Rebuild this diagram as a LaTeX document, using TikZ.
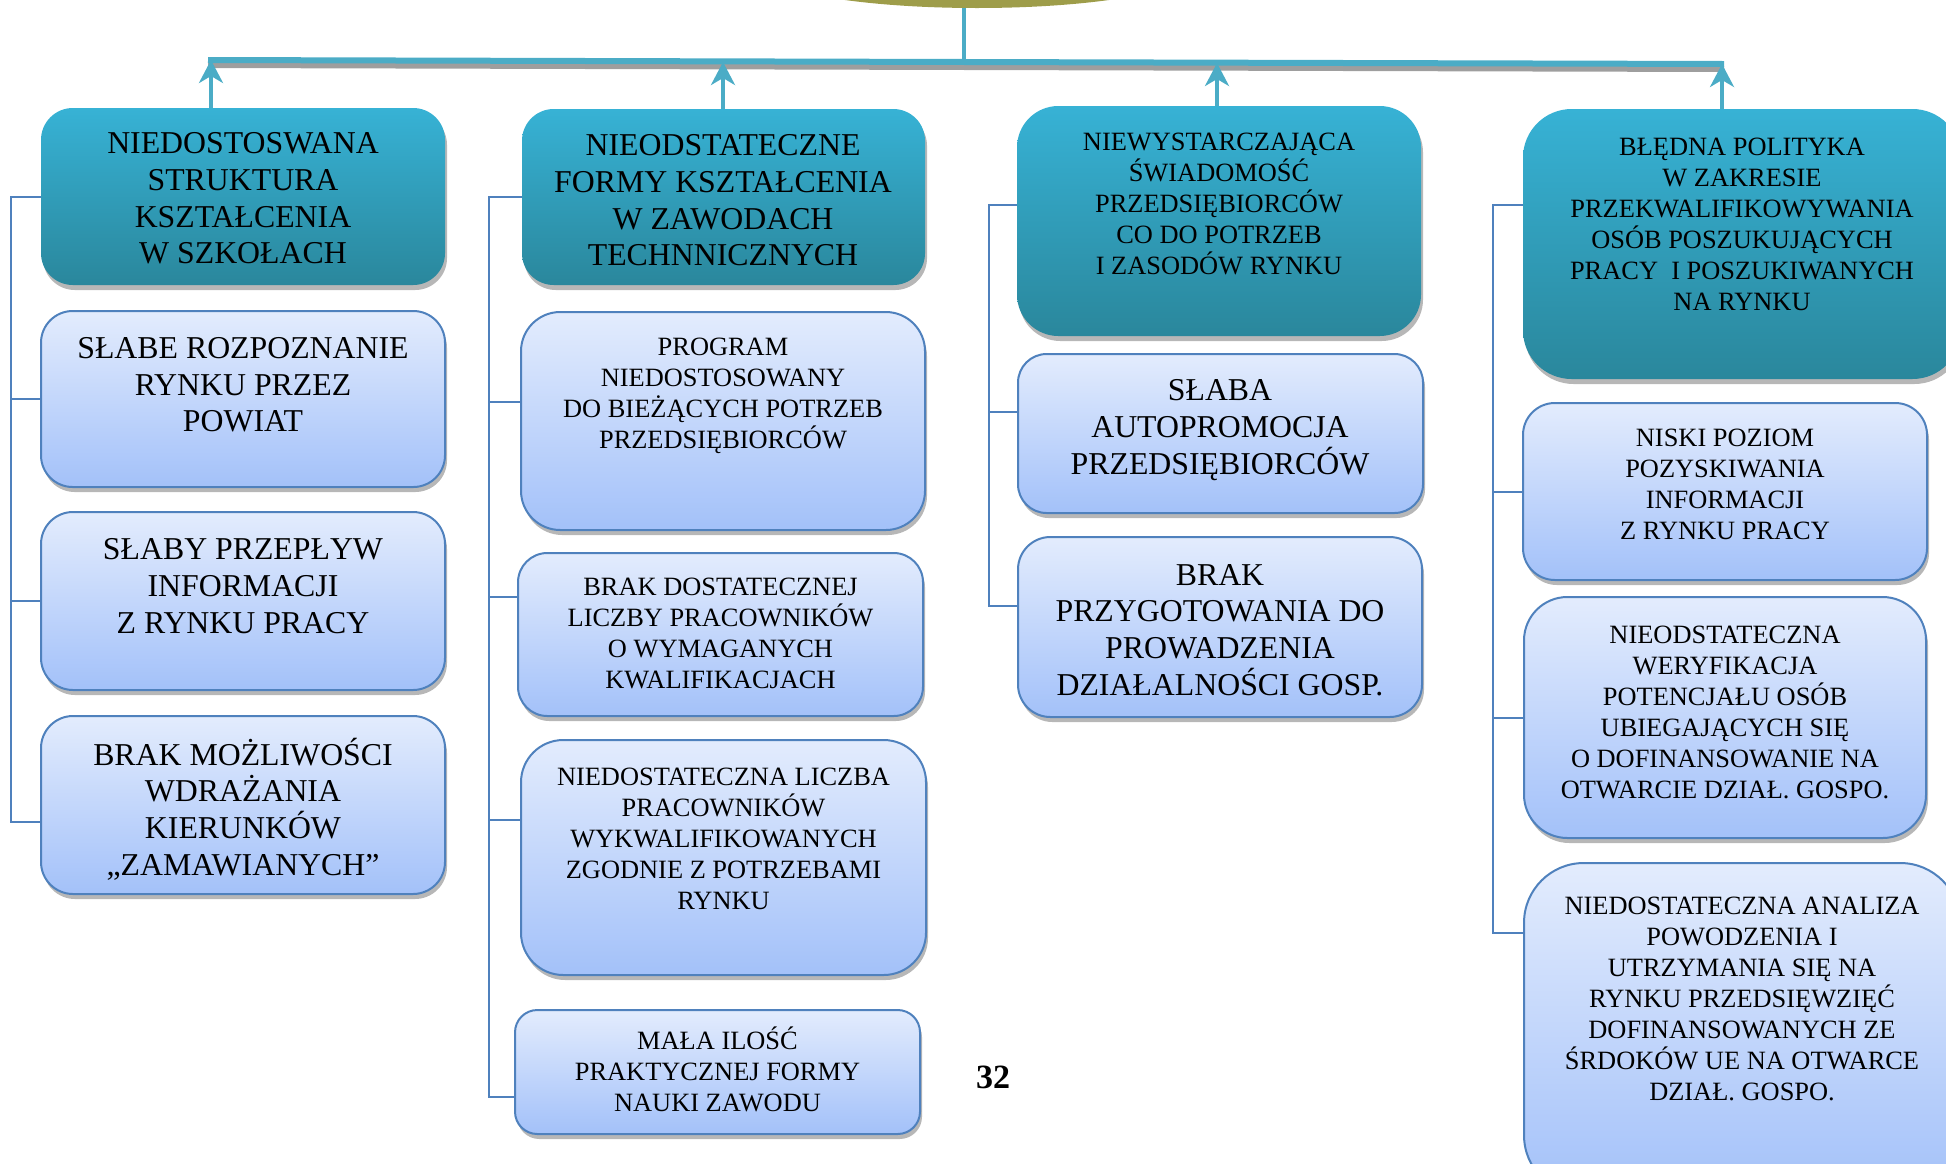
\documentclass[tikz,border=0pt]{standalone}
\usepackage{fontspec}
\setmainfont{Liberation Serif}
\usetikzlibrary{arrows.meta,shapes.geometric}
\definecolor{hdtop}{HTML}{37B2D5}
\definecolor{hdbot}{HTML}{2A879C}
\definecolor{lbtop}{HTML}{E3ECFD}
\definecolor{lbbot}{HTML}{A3C1F9}
\definecolor{lbline}{HTML}{4F81BD}
\definecolor{barc}{HTML}{4BACC6}
\definecolor{rootc}{HTML}{9E9D4A}
% #1 name, #2 style, #3 x1, #4 y1, #5 x2, #6 y2 (pixel units)
\newcommand\mkbox[6]{%
  \pgfmathsetmacro\bw{(#5-#3)*0.5}%
  \pgfmathsetmacro\bh{(#6-#4)*0.5}%
  \pgfmathsetmacro\br{0.18*min(\bw,\bh)}%
  \fill[black!40, opacity=0.7, rounded corners=\br pt] (#3+2,#4+5) rectangle (#5+2,#6+5);
  \node[#2, minimum width=\bw pt, minimum height=\bh pt, rounded corners=\br pt] (#1) at ({(#3+#5)/2},{(#4+#6)/2}) {};
}
\begin{document}
\begin{tikzpicture}[x=0.5pt,y=-0.5pt,
  hd/.style={rectangle, top color=hdtop, bottom color=hdbot, draw=none, inner sep=0},
  lb/.style={rectangle, top color=lbtop, bottom color=lbbot, draw=lbline, line width=1pt, inner sep=0},
  big/.style={align=center, inner sep=0, font=\fontsize{15.9}{18.35}\selectfont},
  sml/.style={align=center, inner sep=0, font=\fontsize{13.2}{15.5}\selectfont},
  conn/.style={draw=lbline, line width=1pt},
  arr/.style={barc, line width=1.8pt, -{Stealth[length=11.5pt,width=12pt,inset=3.5pt]}},
]
\useasboundingbox (0,0) rectangle (1946,1163);
\clip (0,0) rectangle (1946,1163);

% root
\node[ellipse, fill=rootc, minimum width=220pt, minimum height=40pt, inner sep=0] (root) at (977,-32) {};

% boxes
\mkbox{h1}{hd}{41}{108}{445}{285}
\mkbox{c11}{lb}{41}{311}{445}{487}
\mkbox{c12}{lb}{41}{512}{445}{690}
\mkbox{c13}{lb}{41}{716}{445}{894}
\mkbox{h2}{hd}{522}{109}{925}{285}
\mkbox{c21}{lb}{521}{312}{925}{530}
\mkbox{c22}{lb}{518}{553}{923}{716}
\mkbox{c23}{lb}{521}{740}{926}{975}
\mkbox{c24}{lb}{515}{1010}{920}{1134}
\mkbox{h3}{hd}{1017}{106}{1421}{336}
\mkbox{c31}{lb}{1018}{354}{1423}{513}
\mkbox{c32}{lb}{1018}{537}{1422}{717}
\mkbox{h4}{hd}{1523}{109}{1961}{379}
\mkbox{c41}{lb}{1523}{403}{1927}{580}
\mkbox{c42}{lb}{1524}{597}{1926}{838}
\mkbox{c43}{lb}{1524}{863}{1960}{1195}

% texts
\node[big] (th1) at (243,198.5) {NIEDOSTOSWANA\\STRUKTURA\\KSZTAŁCENIA\\W SZKOŁACH};
\node[big] (tc11) at (243,385) {SŁABE ROZPOZNANIE\\RYNKU PRZEZ\\POWIAT};
\node[big] (tc12) at (243,586) {SŁABY PRZEPŁYW\\INFORMACJI\\Z RYNKU PRACY};
\node[big] (tc13) at (243,809) {BRAK MOŻLIWOŚCI\\WDRAŻANIA\\KIERUNKÓW\\„ZAMAWIANYCH”};

\node[big] (th2) at (723,200.5) {NIEODSTATECZNE\\FORMY KSZTAŁCENIA\\W ZAWODACH\\TECHNNICZNYCH};
\node[sml] (tc21) at (723,395.5) {PROGRAM\\NIEDOSTOSOWANY\\DO BIEŻĄCYCH POTRZEB\\PRZEDSIĘBIORCÓW};
\node[sml] (tc22) at (720.5,633) {BRAK DOSTATECZNEJ\\LICZBY PRACOWNIKÓW\\O WYMAGANYCH\\KWALIFIKACJACH};
\node[sml] (tc23) at (723.5,839) {NIEDOSTATECZNA LICZBA\\PRACOWNIKÓW\\WYKWALIFIKOWANYCH\\ZGODNIE Z POTRZEBAMI\\RYNKU};
\node[sml] (tc24) at (717.5,1069) {MAŁA ILOŚĆ\\PRAKTYCZNEJ FORMY\\NAUKI ZAWODU};

\node[sml] (th3) at (1219,204) {NIEWYSTARCZAJĄCA\\ŚWIADOMOŚĆ\\PRZEDSIĘBIORCÓW\\CO DO POTRZEB\\I ZASODÓW RYNKU};
\node[big] (tc31) at (1220,430) {SŁABA\\AUTOPROMOCJA\\PRZEDSIĘBIORCÓW};
\node[big] (tc32) at (1220,630) {BRAK\\PRZYGOTOWANIA DO\\PROWADZENIA\\DZIAŁALNOŚCI GOSP.};

\node[sml] (th4) at (1742,224) {BŁĘDNA POLITYKA\\W ZAKRESIE\\PRZEKWALIFIKOWYWANIA\\OSÓB POSZUKUJĄCYCH\\PRACY \ I POSZUKIWANYCH\\NA RYNKU};
\node[sml] (tc41) at (1725,484) {NISKI POZIOM\\POZYSKIWANIA\\INFORMACJI\\Z RYNKU PRACY};
\node[sml] (tc42) at (1725,712) {NIEODSTATECZNA\\WERYFIKACJA\\POTENCJAŁU OSÓB\\UBIEGAJĄCYCH SIĘ\\O DOFINANSOWANIE NA\\OTWARCIE DZIAŁ. GOSPO.};
\node[sml] (tc43) at (1742,999) {NIEDOSTATECZNA ANALIZA\\POWODZENIA I\\UTRZYMANIA SIĘ NA\\RYNKU PRZEDSIĘWZIĘĆ\\DOFINANSOWANYCH ZE\\ŚRDOKÓW UE NA OTWARCE\\DZIAŁ. GOSPO.};

\node[font=\bfseries\fontsize{17}{20}\selectfont, inner sep=0] (pg) at (993,1077) {32};

% column connectors
\coordinate (v1) at (11,0);
\coordinate (v2) at (489,0);
\coordinate (v3) at (989,0);
\coordinate (v4) at (1493,0);
\draw[conn] (h1.west) -- (h1.west -| v1) |- ([yshift=-8.5pt]c13.west);
\draw[conn] (c11.west -| v1) -- (c11.west);
\draw[conn] (c12.west -| v1) -- (c12.west);

\draw[conn] (h2.west) -- (h2.west -| v2) |- ([yshift=-12.5pt]c24.west);
\draw[conn] ([yshift=9.5pt]c21.west -| v2) -- ([yshift=9.5pt]c21.west);
\draw[conn] ([yshift=18.75pt]c22.west -| v2) -- ([yshift=18.75pt]c22.west);
\draw[conn] ([yshift=18.75pt]c23.west -| v2) -- ([yshift=18.75pt]c23.west);

\draw[conn] ([yshift=8pt]h3.west) -- ([yshift=8pt]h3.west -| v3) |- ([yshift=10.5pt]c32.west);
\draw[conn] ([yshift=10.75pt]c31.west -| v3) -- ([yshift=10.75pt]c31.west);

\draw[conn] ([yshift=19.5pt]h4.west) -- ([yshift=19.5pt]h4.west -| v4) |- ([yshift=48.25pt]c43.west);
\draw[conn] (c41.west -| v4) -- (c41.west);
\draw[conn] (c42.west -| v4) -- (c42.west);

% top bar
\coordinate (barL) at (208,60);
\coordinate (barR) at (1724,64);
\coordinate (rc) at (964,62);
\coordinate (a1) at (211,60);
\coordinate (a2) at (723,62);
\coordinate (a3) at (1217,63);
\coordinate (a4) at (1722,64);
\draw[black!38, line width=3pt] ([yshift=-2.5pt]barL) -- ([yshift=-2.5pt]barR);
\draw[barc, line width=3pt] (barL) -- (barR);
\draw[barc, line width=1.6pt] (root.south -| rc) -- (rc);
\draw[arr] (h1.north -| a1) -- (a1);
\draw[arr] (h2.north -| a2) -- (a2);
\draw[arr] (h3.north -| a3) -- (a3);
\draw[arr] (h4.north -| a4) -- (a4);
\end{tikzpicture}
\end{document}
